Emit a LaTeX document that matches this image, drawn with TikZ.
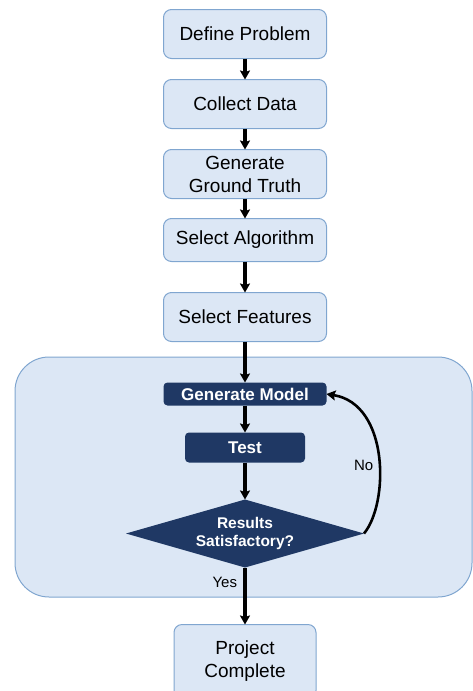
\documentclass[tikz,border=0pt]{standalone}
\usepackage{fontspec}
\setmainfont{Liberation Sans}
\usepackage{xcolor}
\usetikzlibrary{positioning,shapes.geometric,arrows.meta}
\definecolor{boxfill}{RGB}{220,231,245}
\definecolor{boxline}{RGB}{128,166,208}
\definecolor{navy}{RGB}{31,56,100}

\begin{document}
\begin{tikzpicture}[x=1pt,y=-1pt,->,>={Stealth[length=9pt,width=10pt,inset=1.5pt]},line width=3.1pt,
	process/.style={draw=boxline,line width=1pt,fill=boxfill,rounded corners=8pt,minimum width=163pt,minimum height=49pt,align=center,inner sep=2pt,outer sep=0pt,font=\fontsize{19}{23}\selectfont},
	stage/.style={fill=navy,text=white,rounded corners=4pt,minimum width=163pt,inner sep=1pt,outer sep=0pt,font=\fontsize{17}{20}\bfseries\selectfont},
	decision/.style={diamond,fill=navy,text=white,aspect=3.5,inner sep=0pt,outer sep=0pt,minimum width=238pt,minimum height=68pt,align=center,font=\fontsize{15.5}{18}\bfseries\selectfont},
	container/.style={draw=boxline,line width=1pt,fill=boxfill,rounded corners=34pt,outer sep=0pt,minimum width=457pt,minimum height=240pt},
	edgetext/.style={inner sep=0pt,outer sep=0pt,font=\fontsize{15}{18}\selectfont}]
		\useasboundingbox (0,0) rectangle (473,691);
		% loop region behind the model steps
		\node[container] (loop) at (243.5,477) {};

		\node[process] (define) at (245,34) {Define Problem};
		\node[process] (collect) [below=21pt of define] {Collect Data};
		\node[process] (truth) [below=21pt of collect] {Generate\\Ground Truth};
		\node[process,minimum height=43pt] (algo) [below=20pt of truth] {Select Algorithm};
		\node[process] (features) [below=31pt of algo] {Select Features};
		\node[stage,minimum height=23pt] (model) [below=41pt of features] {Generate Model};
		\node[stage,minimum width=120pt,minimum height=30pt] (test) [below=27pt of model] {Test};
		\node[decision] (check) [below=37pt of test] {Results\\Satisfactory?};
		\node[process,minimum width=142pt,minimum height=74pt] (done) [below=57pt of check] {Project\\Complete};

		\foreach \a/\b in {define/collect,collect/truth,truth/algo,algo/features,features/model,model/test,test/check}
			\draw (\a) -- (\b);
		\draw (check) -- node[edgetext,pos=0.27,left=8pt]{Yes} (done);
		\draw[line width=2.6pt] (check.east) .. controls +(25,-30) and +(63,10) .. node[edgetext,pos=0.45,left=6pt]{No} (model.east);
	\end{tikzpicture}
\end{document}
